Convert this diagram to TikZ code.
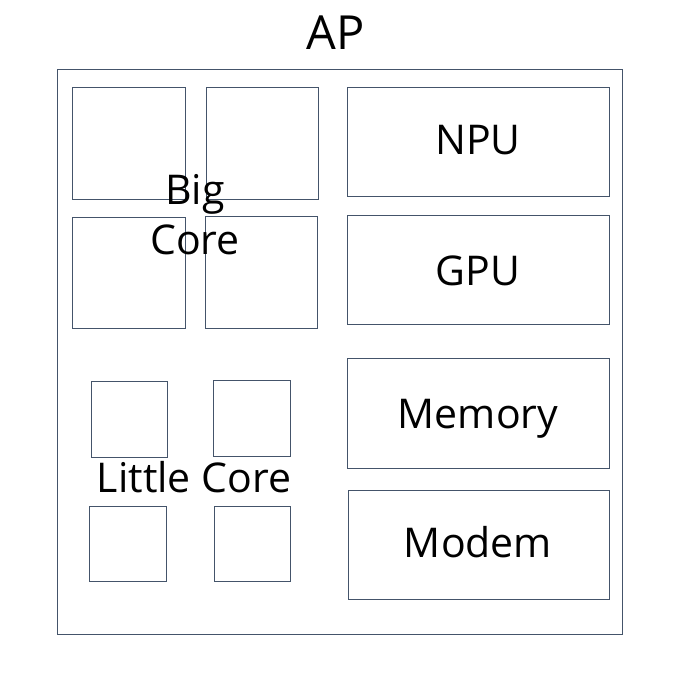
\documentclass[tikz,border=0pt]{standalone}
\usepackage{fontspec}
\setmainfont{Open Sans}
\definecolor{boxline}{HTML}{44546A}
\tikzset{
  block/.style={draw=boxline, line width=0.8pt, inner sep=0pt},
  label/.style={font=\fontsize{41}{50}\selectfont, text=black, align=center}
}
\begin{document}
\begin{tikzpicture}[x=1pt, y=-1pt]
  \useasboundingbox (0,0) rectangle (674,674);

  % Titel und Rahmen
  \node[label, font=\fontsize{47}{56}\selectfont] (title) at (336,33) {AP};
  \draw[block] (57,69) rectangle (622,634);

  % Big cores
  \draw[block] (72,87) rectangle (185,199);
  \draw[block] (206,87) rectangle (318,199);
  \draw[block] (72,217) rectangle (185,328);
  \draw[block] (205,216) rectangle (317,328);
  \node[label] (big) at (195,215) {Big\\Core};

  % Little cores
  \draw[block] (91,381) rectangle (167,457);
  \draw[block] (213,380) rectangle (290,456);
  \draw[block] (89,506) rectangle (166,581);
  \draw[block] (214,506) rectangle (290,581);
  \node[label] (little) at (194,477) {Little Core};

  % Rechte Spalte
  \draw[block] (347,87) rectangle (609,196);
  \node[label] (npu) at (478,140) {NPU};
  \draw[block] (347,215) rectangle (609,324);
  \node[label] (gpu) at (478,271) {GPU};
  \draw[block] (347,358) rectangle (609,468);
  \node[label] (mem) at (478,419) {Memory};
  \draw[block] (348,490) rectangle (609,599);
  \node[label] (modem) at (478,542) {Modem};
\end{tikzpicture}
\end{document}
